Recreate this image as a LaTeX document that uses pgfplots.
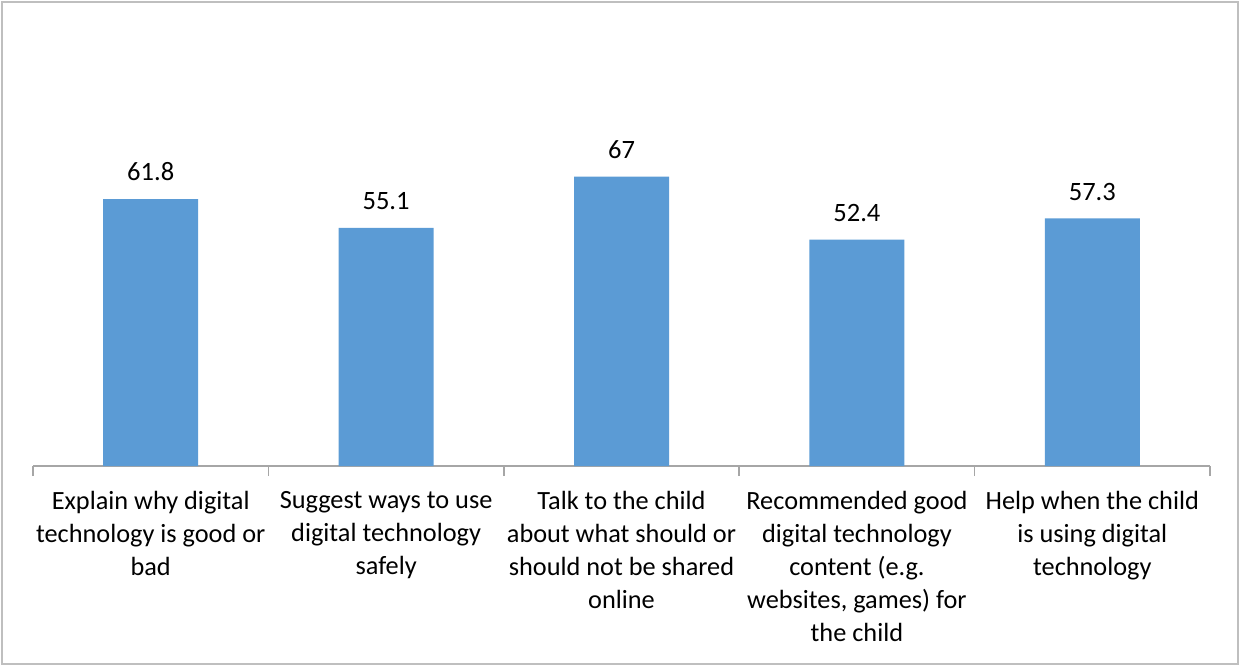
\documentclass[border=0pt]{standalone}
\usepackage{pgfplots}
\pgfplotsset{compat=1.18}
\usepackage{fontspec}
\setmainfont{Carlito}
\definecolor{barblue}{HTML}{5B9BD5}
\definecolor{axgray}{HTML}{A6A6A6}
\definecolor{bordergray}{HTML}{BFBFBF}
\begin{document}
\begin{tikzpicture}[x=1bp,y=1bp]
\useasboundingbox (0,0) rectangle (620,332.5);
\draw[bordergray, line width=1.2bp] (1,0.6) rectangle (619,331.5);
\begin{axis}[
  at={(16.5bp,99.5bp)}, anchor=south west,
  scale only axis,
  width=588.5bp, height=172.8bp,
  xmin=-0.5, xmax=4.5, ymin=0, ymax=80,
  axis x line*=bottom, axis y line=none,
  x axis line style={axgray, line width=0.75bp, -},
  xtick={0,1,2,3,4},
  major tick length=0pt,
  extra x ticks={-0.5,0.5,1.5,2.5,3.5,4.5},
  extra x tick labels={},
  extra x tick style={major tick length=5bp, tick style={axgray, line width=0.75bp}},
  xtick align=outside,
  xticklabels={{Explain why digital\\technology is good or\\bad},
               {Suggest ways to use\\digital technology\\safely},
               {Talk to the child\\about what should or\\should not be shared\\online},
               {Recommended good\\digital technology\\content (e.g.\\websites, games) for\\the child},
               {Help when the child\\is using digital\\technology}},
  xticklabel style={align=center, font=\fontsize{13.2}{16.6}\selectfont, anchor=north, yshift=-9bp, text=black},
  ybar, bar width=47.5bp,
  nodes near coords,
  every node near coord/.append style={font=\fontsize{13.3}{16}\selectfont, text=black, yshift=5.5bp},
  point meta=explicit symbolic,
  clip=false,
]
\addplot[fill=barblue, draw=none] coordinates {(0,61.8)[61.8] (1,55.1)[55.1] (2,67)[67] (3,52.4)[52.4] (4,57.3)[57.3]};
\end{axis}
\end{tikzpicture}
\end{document}
